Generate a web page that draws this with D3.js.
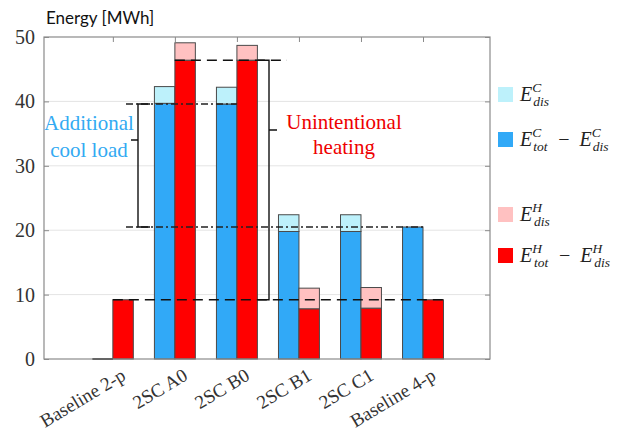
<!DOCTYPE html>
<html><head><meta charset="utf-8">
<script src="https://cdn.jsdelivr.net/npm/d3@7/dist/d3.min.js"></script>
<style>body{margin:0;background:#fff}svg{display:block}.serif{font-family:"Liberation Serif","Times New Roman",Tinos,"DejaVu Serif",serif}</style>
</head><body><svg id="c" width="625" height="436"></svg>
<script>
const categories = ["Baseline 2-p","2SC A0","2SC B0","2SC B1","2SC C1","Baseline 4-p"];
const coolNet = [0, 39.7, 39.6, 19.8, 19.8, 20.5];   // E_tot^C - E_dis^C
const coolDis = [0, 2.6, 2.6, 2.6, 2.6, 0];          // E_dis^C
const heatNet = [9.2, 46.4, 46.4, 7.8, 7.9, 9.2];    // E_tot^H - E_dis^H
const heatDis = [0, 2.7, 2.3, 3.2, 3.2, 0];          // E_dis^H
const yTicks = [0, 10, 20, 30, 40, 50];

const svg = d3.select("#c");
const L = 44, R = 490, T = 37, B = 359;
const x = d3.scaleLinear().domain([-0.11, 7.08]).range([L, R]);
const y = d3.scaleLinear().domain([0, 50]).range([B, T]);
const bw = x(0.33) - x(0);
const C = {coolDis:"#bdf1fb", coolNet:"#31a9f7", heatDis:"#ffc1c1", heatNet:"#ff0000"};

// grid
svg.append("g").selectAll("line").data(yTicks.slice(1, -1)).join("line")
  .attr("x1", L).attr("x2", R).attr("y1", d => y(d)).attr("y2", d => y(d))
  .attr("stroke", "#e4e4e4").attr("stroke-width", 1);

// bars
const idx = d3.range(categories.length);
const bars = svg.append("g");
function stack(net, dis, off, cNet, cDis) {
  idx.forEach(i => {
    const cx = x(i + 1) + off * bw;
    bars.append("rect").attr("x", cx).attr("width", bw)
      .attr("y", y(net[i])).attr("height", y(0) - y(net[i]))
      .attr("fill", cNet).attr("stroke", "#4a4a4a").attr("stroke-width", 1);
    if (dis[i] > 0)
      bars.append("rect").attr("x", cx).attr("width", bw)
        .attr("y", y(net[i] + dis[i])).attr("height", y(net[i]) - y(net[i] + dis[i]))
        .attr("fill", cDis).attr("stroke", "#4a4a4a").attr("stroke-width", 1);
  });
}
stack(coolNet, coolDis, -1, C.coolNet, C.coolDis);
stack(heatNet, heatDis, 0, C.heatNet, C.heatDis);

// axes box
svg.append("rect").attr("x", L).attr("y", T).attr("width", R - L).attr("height", B - T)
  .attr("fill", "none").attr("stroke", "#8a8a8a").attr("stroke-width", 1.2);
const yAxis = d3.axisLeft(y).tickValues(yTicks).tickSize(-5).tickPadding(9);
const gy = svg.append("g").attr("transform", `translate(${L},0)`).call(yAxis);
gy.select(".domain").remove();
gy.selectAll(".tick line").attr("stroke", "#8a8a8a");
gy.selectAll(".tick text").attr("class", "serif").attr("font-family", null).attr("font-size", 20).attr("fill", "#333");
const gyr = svg.append("g").attr("transform", `translate(${R},0)`).call(d3.axisRight(y).tickValues(yTicks).tickSize(-5).tickFormat(""));
gyr.select(".domain").remove(); gyr.selectAll(".tick line").attr("stroke", "#8a8a8a");
const gxt = svg.append("g").attr("transform", `translate(0,${T})`)
  .call(d3.axisTop(x).tickValues(idx.map(i => i + 1)).tickSize(-5).tickFormat(""));
gxt.select(".domain").remove(); gxt.selectAll(".tick line").attr("stroke", "#8a8a8a");
// baseline for zero-height bar
svg.append("line").attr("x1", x(1) - bw).attr("x2", x(1)).attr("y1", y(coolNet[0])).attr("y2", y(coolNet[0]))
  .attr("stroke", "#4a4a4a").attr("stroke-width", 1.5);

// x labels rotated
svg.append("g").selectAll("text").data(categories).join("text")
  .attr("class", "serif")
  .attr("transform", (d, i) => `translate(${x(i + 1) + 7},${B + 8}) rotate(-31)`)
  .attr("text-anchor", "end").attr("dy", "0.72em")
  .attr("font-size", 19).attr("fill", "#333")
  .text(d => d);

// y title
svg.append("text").attr("x", 46).attr("y", 24).attr("font-family", "Lato, 'Open Sans', sans-serif")
  .attr("font-size", 17).attr("fill", "#111").text("Energy [MWh]");

// reference lines
const ann = svg.append("g").attr("fill", "none");
ann.append("line").attr("x1", 126).attr("x2", x(3)).attr("y1", y(coolNet[2])).attr("y2", y(coolNet[2]))
  .attr("stroke", "#222").attr("stroke-width", 1.3).attr("stroke-dasharray", "7,3,2,3");
ann.append("line").attr("x1", 126).attr("x2", x(6)).attr("y1", y(coolNet[5])).attr("y2", y(coolNet[5]))
  .attr("stroke", "#222").attr("stroke-width", 1.3).attr("stroke-dasharray", "7,3,2,3");
ann.append("line").attr("x1", x(2)).attr("x2", 287).attr("y1", y(heatNet[1])).attr("y2", y(heatNet[1]))
  .attr("stroke", "#111").attr("stroke-width", 1.5).attr("stroke-dasharray", "10,6");
ann.append("line").attr("x1", x(1)).attr("x2", x(6) + bw).attr("y1", y(heatNet[0])).attr("y2", y(heatNet[0]))
  .attr("stroke", "#111").attr("stroke-width", 1.5).attr("stroke-dasharray", "10,6");

// braces
const bx1 = 138, t1 = y(coolNet[2]), b1 = y(coolNet[5]);
ann.append("path").attr("d", `M150,${t1}H${bx1}V${b1}H150M${bx1},140H131`)
  .attr("stroke", "#111").attr("stroke-width", 1.4);
const bx2 = 269, t2 = y(heatNet[1]), b2 = y(heatNet[0]);
ann.append("path").attr("d", `M258,${t2}H${bx2}V${b2}H258M${bx2},130H277`)
  .attr("stroke", "#111").attr("stroke-width", 1.4);

// annotation texts
const at = svg.append("g").attr("class", "serif").attr("font-size", 21).attr("text-anchor", "middle");
at.append("text").attr("x", 89).attr("y", 130).attr("fill", "#33aaf2").text("Additional");
at.append("text").attr("x", 89).attr("y", 157).attr("fill", "#33aaf2").text("cool load");
at.append("text").attr("x", 344).attr("y", 129).attr("fill", "#ee0000").text("Unintentional");
at.append("text").attr("x", 344).attr("y", 154).attr("fill", "#ee0000").text("heating");

// legend
const legend = [
  {c: C.coolDis, sup: "C", parts: [["E","dis"]], y: 87},
  {c: C.coolNet, sup: "C", parts: [["E","tot"],["E","dis"]], y: 132},
  {c: C.heatDis, sup: "H", parts: [["E","dis"]], y: 207},
  {c: C.heatNet, sup: "H", parts: [["E","tot"],["E","dis"]], y: 248}
];
const lg = svg.append("g");
legend.forEach(l => {
  lg.append("rect").attr("x", 498).attr("y", l.y).attr("width", 15).attr("height", 15).attr("fill", l.c);
  const t = lg.append("text").attr("x", 520).attr("y", l.y + 14).attr("class", "serif")
    .attr("font-style", "italic").attr("font-size", 20).attr("fill", "#222");
  l.parts.forEach((p, k) => {
    if (k > 0) t.append("tspan").attr("dx", 9).attr("font-style", "normal").text("\u2212\u2002");
    t.append("tspan").text(p[0]);
    t.append("tspan").attr("font-size", 13.5).attr("dy", -9).attr("dx", 0).text(l.sup);
    t.append("tspan").attr("font-size", 13.5).attr("dy", 14).attr("dx", -8).text(p[1]);
    t.append("tspan").attr("dy", -5).text("\u200a");
  });
});
</script></body></html>
